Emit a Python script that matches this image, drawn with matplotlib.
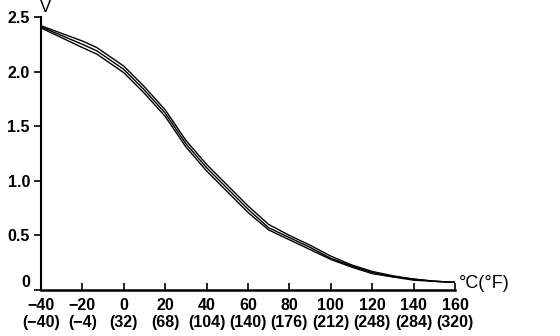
import matplotlib.pyplot as plt

# temperature (deg C) and output voltage, three sample curves
temp = [-40, -30, -20, -13, 0, 10, 20, 30, 40, 50, 60, 70, 80, 90, 100, 110, 120, 130, 140, 150, 160]
v_high = [2.42, 2.35, 2.28, 2.22, 2.05, 1.86, 1.65, 1.37, 1.15, 0.96, 0.77, 0.60, 0.50, 0.41, 0.31, 0.23, 0.17, 0.13, 0.10, 0.08, 0.07]
v_mid = [2.41, 2.33, 2.25, 2.19, 2.02, 1.83, 1.62, 1.34, 1.12, 0.93, 0.74, 0.57, 0.48, 0.39, 0.29, 0.22, 0.16, 0.12, 0.10, 0.08, 0.07]
v_low = [2.40, 2.31, 2.22, 2.16, 1.99, 1.80, 1.59, 1.31, 1.09, 0.90, 0.71, 0.55, 0.46, 0.37, 0.28, 0.21, 0.15, 0.12, 0.09, 0.08, 0.07]

xticks = [-40, -20, 0, 20, 40, 60, 80, 100, 120, 140, 160]
xlabels = ["\u221240\n(\u221240)", "\u221220\n(\u22124)", "0\n(32)", "20\n(68)", "40\n(104)", "60\n(140)",
           "80\n(176)", "100\n(212)", "120\n(248)", "140\n(284)", "160\n(320)"]
yticks = [0, 0.5, 1.0, 1.5, 2.0, 2.5]
ylabels = ["0", "0.5", "1.0", "1.5", "2.0", "2.5"]

plt.rcParams['font.family'] = ['Liberation Sans', 'DejaVu Sans']

fig = plt.figure(figsize=(5.6, 3.36), dpi=100)
ax = fig.add_axes([41/560, 46/336, 414/560, 273/336])

for v in (v_high, v_mid, v_low):
    ax.plot(temp, v, color='black', lw=1.0)

ax.set_xlim(-40, 160)
ax.set_ylim(0, 2.5)
ax.spines['top'].set_visible(False)
ax.spines['right'].set_visible(False)
ax.spines['left'].set_linewidth(1.5)
ax.spines['bottom'].set_linewidth(1.8)

ax.set_xticks(xticks)
ax.set_xticklabels(xlabels, fontsize=11.5, fontweight='bold', linespacing=1.15)
ax.set_yticks(yticks)
ax.set_yticklabels(ylabels, fontsize=11.5, fontweight='bold')
ax.tick_params(axis='x', direction='in', length=5, width=1.2, pad=6)
ax.tick_params(axis='y', direction='out', length=5, width=1.2, pad=3)
# the "0" label sits a little above the axis line in the reference
ax.get_yticklabels()[0].set_verticalalignment('bottom')

fig.text(40/560, 1.0, "V", fontsize=12, ha='left', va='top')
fig.text(459/560, 52/336, "\u00b0C(\u00b0F)", fontsize=13, ha='left', va='center')

fig.savefig("out.png", dpi=100)
